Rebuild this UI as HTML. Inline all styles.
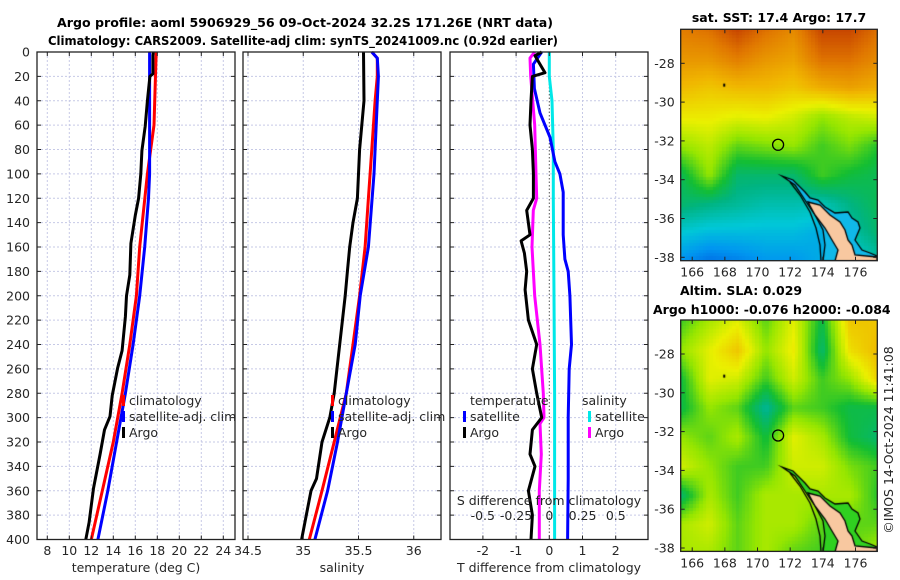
<!DOCTYPE html>
<html><head><meta charset="utf-8">
<style>
html,body{margin:0;padding:0;background:#fff;}
body{width:900px;height:580px;overflow:hidden;position:relative;font-family:"DejaVu Sans","Liberation Sans",sans-serif;}
svg{position:absolute;left:0;top:0;}
canvas{position:absolute;}
</style></head><body>
<canvas id="sst" width="197" height="232" style="left:680px;top:29px"></canvas>
<canvas id="sla" width="197" height="232" style="left:680px;top:320px"></canvas>
<svg id="chart" width="900" height="580" xmlns="http://www.w3.org/2000/svg"></svg>
<script>
// ---- data ----
const depthTA = [0,3,18,20,40,61,81,100,120,134,157,183,200,217,245,259,282,299,310,330,358,386,400];
const tempArgo = [17.64,17.6,17.6,17.33,17.1,16.9,16.6,16.5,16.3,16.0,15.6,15.5,15.2,15.1,14.8,14.4,13.9,13.7,13.2,12.8,12.2,11.8,11.5];
const depthC = [0,60,100,160,200,240,280,320,360,400];
const tempClim = [17.9,17.7,17.1,16.4,16.1,15.5,14.8,14.0,13.0,12.0];
const depthS = [0,40,100,120,160,200,240,280,320,360,400];
const tempSat = [17.3,17.3,17.3,17.2,16.85,16.4,15.8,15.1,14.3,13.5,12.6];
const depthSA = [0,40,80,120,140,160,180,200,240,280,300,320,350,360,400];
const salArgo = [35.545,35.55,35.51,35.49,35.45,35.42,35.40,35.38,35.33,35.28,35.24,35.17,35.12,35.07,34.985];
const depthSC = [0,5,20,40,80,120,160,200,240,280,320,360,400];
const salClim = [35.62,35.67,35.67,35.65,35.62,35.59,35.56,35.51,35.45,35.39,35.28,35.17,35.055];
const depthSS = [0,5,20,40,60,100,160,200,240,280,320,360,400];
const salSat = [35.62,35.67,35.68,35.67,35.66,35.64,35.59,35.515,35.47,35.39,35.31,35.22,35.105];
const depthDT = [0,3,17,20,40,60,80,100,120,130,150,155,165,180,195,220,240,260,280,300,310,330,340,360,380,400];
const tDiffArgo = [-0.23,-0.43,-0.13,-0.51,-0.55,-0.58,-0.51,-0.48,-0.48,-0.68,-0.58,-0.85,-0.75,-0.68,-0.73,-0.63,-0.38,-0.51,-0.38,-0.23,-0.51,-0.58,-0.43,-0.63,-0.51,-0.55];
const depthDTS = [0,10,30,50,70,90,100,115,150,170,180,200,240,260,300,350,400];
const tDiffSat = [-0.23,-0.48,-0.45,-0.28,0.02,0.17,0.32,0.42,0.42,0.47,0.57,0.62,0.67,0.6,0.57,0.57,0.55];
const depthDS = [0,5,20,60,100,120,130,160,200,240,280,300,305,330,360,400];
const sDiffArgo = [-0.11,-0.145,-0.14,-0.11,-0.10,-0.095,-0.12,-0.13,-0.11,-0.07,-0.045,-0.04,-0.07,-0.06,-0.075,-0.075];
const depthDSS = [0,20,40,80,120,200,280,320,400];
const sDiffSat = [0,0,0.02,0.03,0.03,0.035,0.04,0.04,0.04];
const depthTicks = [0,20,40,60,80,100,120,140,160,180,200,220,240,260,280,300,320,340,360,380,400];
const tTicks = [8,10,12,14,16,18,20,22,24];
const sTicks = [34.5,35,35.5,36];
const tdTicks = [-2,-1,0,1,2];
const sdTicks = [-0.5,-0.25,0,0.25,0.5];
const sdTickLabels = ["-0.5","-0.25","0","0.25","0.5"];
const lonTicks = [166,168,170,172,174,176];
const latTicks = [-28,-30,-32,-34,-36,-38];
// gridded map values (colormap index 0..1), rows north->south
const sstGrid = [
[0.84,0.86,0.92,0.86,0.82,0.92,0.92,0.86],
[0.8,0.8,0.84,0.8,0.78,0.86,0.86,0.82],
[0.74,0.72,0.74,0.74,0.72,0.76,0.78,0.76],
[0.66,0.66,0.64,0.65,0.62,0.56,0.6,0.62],
[0.56,0.6,0.52,0.54,0.56,0.5,0.54,0.48],
[0.44,0.56,0.42,0.42,0.42,0.5,0.46,0.44],
[0.42,0.4,0.38,0.36,0.36,0.35,0.4,0.44],
[0.32,0.3,0.3,0.3,0.3,0.28,0.36,0.42],
[0.24,0.2,0.22,0.25,0.25,0.28,0.3,0.36]];
const slaGrid = [
[0.5,0.58,0.64,0.52,0.64,0.45,0.72,0.72],
[0.56,0.64,0.72,0.56,0.66,0.42,0.68,0.74],
[0.46,0.64,0.62,0.5,0.62,0.5,0.56,0.7],
[0.45,0.56,0.52,0.38,0.52,0.5,0.45,0.45],
[0.56,0.52,0.58,0.46,0.64,0.58,0.46,0.42],
[0.62,0.56,0.5,0.5,0.62,0.62,0.54,0.5],
[0.42,0.58,0.5,0.58,0.58,0.58,0.58,0.48],
[0.58,0.62,0.52,0.58,0.58,0.52,0.52,0.52],
[0.58,0.58,0.52,0.58,0.52,0.5,0.52,0.58]];

const NS='http://www.w3.org/2000/svg';
const FONT='"DejaVu Sans","Liberation Sans",sans-serif';
const svg=document.getElementById('chart');
function mk(tag,attrs,parent){const e=document.createElementNS(NS,tag);for(const k in attrs)e.setAttribute(k,attrs[k]);(parent||svg).appendChild(e);return e;}
function txt(x,y,s,attrs,parent){const e=mk('text',Object.assign({x:x,y:y,'font-size':12,fill:'#262626','font-family':FONT},attrs||{}),parent);e.textContent=s;return e;}

const Y0=52,Y1=539.5;
const yD=d=>Y0+(d/400)*(Y1-Y0);
const P1={l:37,r:235}, P2={l:243,r:441}, P3={l:450,r:648};
const xT=t=>47.3+(t-8)*11;
const xS=s=>248+(s-34.5)*110.5;
const xTD=t=>549.3+t*33.2;
const xSD=s=>549.3+s*133;

function panel(name){
  const g=mk('g',{});
  
  
  return g;
}
function grid(g,P,xs,fn){
  xs.forEach(v=>{const x=fn(v);mk('line',{x1:x,x2:x,y1:Y0,y2:Y1,stroke:'#c6c9e6','stroke-width':1,'stroke-dasharray':'2,2'},g);});
  depthTicks.forEach(d=>{mk('line',{x1:P.l,x2:P.r,y1:yD(d),y2:yD(d),stroke:'#c6c9e6','stroke-width':1,'stroke-dasharray':'2,2'},g);});
}
function frame(g,P,xs,fn){
  mk('rect',{x:P.l,y:Y0,width:P.r-P.l,height:Y1-Y0,fill:'none',stroke:'#222','stroke-width':1.3},g);
  depthTicks.forEach(d=>{const y=yD(d);mk('line',{x1:P.l,x2:P.l+4,y1:y,y2:y,stroke:'#222'},g);mk('line',{x1:P.r-4,x2:P.r,y1:y,y2:y,stroke:'#222'},g);});
  xs.forEach(v=>{const x=fn(v);mk('line',{x1:x,x2:x,y1:Y1-4,y2:Y1,stroke:'#222'},g);mk('line',{x1:x,x2:x,y1:Y0,y2:Y0+4,stroke:'#222'},g);});
}
function series(g,xs,ds,fn,color,name,w){
  const pts=xs.map((v,i)=>fn(v).toFixed(1)+','+yD(ds[i]).toFixed(1)).join(' ');
  const p=mk('polyline',{points:pts,fill:'none',stroke:color,'stroke-width':w||3,'stroke-linejoin':'round'},g);
  
  
}
function legendEntry(g,x,y,color,label,name){
  const e=mk('g',{},g);
  
  
  mk('rect',{x:x,y:y-10,width:3,height:11,fill:color},e);
  txt(x+7,y,label,{'font-size':12.5},e);
}

// titles
const t1=txt(305,27,'Argo profile: aoml 5906929_56 09-Oct-2024 32.2S 171.26E (NRT data)',{'text-anchor':'middle','font-weight':'bold','font-size':12,fill:'#000',textLength:496,lengthAdjust:'spacingAndGlyphs'});

const t2=txt(303,45,'Climatology: CARS2009. Satellite-adj clim: synTS_20241009.nc (0.92d earlier)',{'text-anchor':'middle','font-weight':'bold','font-size':12,fill:'#000',textLength:510,lengthAdjust:'spacingAndGlyphs'});


// depth labels
depthTicks.forEach(d=>{txt(30,yD(d)+4.5,String(d),{'text-anchor':'end','font-size':12.5});});

// panel 1
const g1=panel('temperature-panel');
grid(g1,P1,tTicks,xT);
series(g1,tempClim,depthC,xT,'#ff0000','clim-temp-line');
series(g1,tempSat,depthS,xT,'#0000ff','sat-temp-line');
series(g1,tempArgo,depthTA,xT,'#000000','argo-temp-line');
frame(g1,P1,tTicks,xT);
tTicks.forEach(t=>txt(xT(t),555,String(t),{'text-anchor':'middle','font-size':12.5}));
txt(136,572,'temperature (deg C)',{'text-anchor':'middle','font-size':12.5});
legendEntry(g1,122,405,'#ff0000','climatology','legend-climatology');
legendEntry(g1,122,421,'#0000ff','satellite-adj. clim','legend-satellite-adj');
legendEntry(g1,122,437,'#000000','Argo','legend-argo');

// panel 2
const g2=panel('salinity-panel');
grid(g2,P2,sTicks,xS);
series(g2,salClim,depthSC,xS,'#ff0000','clim-sal-line');
series(g2,salSat,depthSS,xS,'#0000ff','sat-sal-line');
series(g2,salArgo,depthSA,xS,'#000000','argo-sal-line');
frame(g2,P2,sTicks,xS);
sTicks.forEach(s=>txt(xS(s),555,String(s),{'text-anchor':'middle','font-size':12.5}));
txt(342,572,'salinity',{'text-anchor':'middle','font-size':12.5});
legendEntry(g2,331,405,'#ff0000','climatology','legend-climatology-2');
legendEntry(g2,331,421,'#0000ff','satellite-adj. clim','legend-satellite-adj-2');
legendEntry(g2,331,437,'#000000','Argo','legend-argo-2');

// panel 3
const g3=panel('difference-panel');
grid(g3,P3,[-2,-1,1,2],xTD);
mk('line',{x1:xTD(0),x2:xTD(0),y1:Y0,y2:Y1,stroke:'#555','stroke-width':1,'stroke-dasharray':'1.5,2'},g3);
series(g3,sDiffSat,depthDSS,xSD,'#00e8e8','sat-sdiff-line');
series(g3,tDiffSat,depthDTS,xTD,'#0000ff','sat-tdiff-line');
series(g3,sDiffArgo,depthDS,xSD,'#ff00ff','argo-sdiff-line');
series(g3,tDiffArgo,depthDT,xTD,'#000000','argo-tdiff-line');
frame(g3,P3,tdTicks,xTD);
tdTicks.forEach(t=>txt(xTD(t),555,String(t),{'text-anchor':'middle','font-size':12.5}));
txt(549,572,'T difference from climatology',{'text-anchor':'middle','font-size':12.5});
txt(549,505,'S difference from climatology',{'text-anchor':'middle','font-size':12.5});
sdTicks.forEach((s,i)=>txt(xSD(s),520,sdTickLabels[i],{'text-anchor':'middle','font-size':12.5}));
txt(470,405,'temperature',{'font-size':12.5});
legendEntry(g3,463,421,'#0000ff','satellite','legend-t-satellite');
legendEntry(g3,463,437,'#000000','Argo','legend-t-argo');
txt(582,405,'salinity',{'font-size':12.5});
legendEntry(g3,588,421,'#00e8e8','satellite','legend-s-satellite');
legendEntry(g3,588,437,'#ff00ff','Argo','legend-s-argo');

// ---- maps ----
const MX0=680.7, MY0=29.3, MW=196.6, MH=231.4;
const lonX=l=>692.2+(l-166)*16.33;
const latY=l=>63.3+(-28-l)*19.4;
const stops=[[0.15,[0,70,220]],[0.25,[0,150,240]],[0.32,[0,200,215]],[0.4,[0,180,130]],[0.47,[20,190,50]],[0.56,[150,230,0]],[0.65,[235,240,0]],[0.75,[240,180,0]],[0.85,[225,120,0]],[0.95,[190,50,0]]];
function cmap(v){if(v<=stops[0][0])return stops[0][1];for(let i=1;i<stops.length;i++){if(v<=stops[i][0]){const a=stops[i-1],b=stops[i],f=(v-a[0])/(b[0]-a[0]);return a[1].map((c,k)=>Math.round(c+(b[1][k]-c)*f));}}return stops[stops.length-1][1];}
const shelf=[[782,176],[793,180],[805,192],[810,198],[818,200],[825,207],[835,213],[848,212],[852,218],[858,222],[860,228],[855,240],[862,250],[870,253],[877,256],[877,261],[823,261],[825,245],[823,230],[815,215],[805,200],[795,185]];
const land=[[808,202],[820,205],[830,215],[840,222],[845,230],[848,240],[852,245],[855,255],[877,257],[877,261],[835,261],[838,250],[832,240],[825,228],[815,215]];
const inner=[[790,182],[800,195],[810,212],[816,228],[820,245],[821,261]];
function drawMap(id,gridV,shelfCol){
  const c=document.getElementById(id),ctx=c.getContext('2d');
  const R=gridV.length,C=gridV[0].length,cell=3.3;
  for(let y=0;y<c.height;y+=cell){for(let x=0;x<c.width;x+=cell){
    const fy=y/c.height*(R-1),fx=x/c.width*(C-1);
    const i=Math.min(R-2,Math.floor(fy)),j=Math.min(C-2,Math.floor(fx)),a=fy-i,b=fx-j;
    const v=gridV[i][j]*(1-a)*(1-b)+gridV[i][j+1]*(1-a)*b+gridV[i+1][j]*a*(1-b)+gridV[i+1][j+1]*a*b;
    const col=cmap(v);ctx.fillStyle='rgb('+col.join(',')+')';ctx.fillRect(Math.floor(x),Math.floor(y),Math.ceil(cell)+1,Math.ceil(cell)+1);
  }}
  const ox=680,oy=29;
  function poly(pts,fill,stroke){ctx.beginPath();pts.forEach((p,k)=>{const X=p[0]-ox,Y=p[1]-oy;k?ctx.lineTo(X,Y):ctx.moveTo(X,Y);});ctx.closePath();if(fill){ctx.fillStyle=fill;ctx.fill();}if(stroke){ctx.strokeStyle=stroke;ctx.lineWidth=1.3;ctx.stroke();}}
  poly(shelf,shelfCol,'#000');
  poly(land,'#f8c8a0','#000');
  ctx.beginPath();inner.forEach((p,k)=>{k?ctx.lineTo(p[0]-ox,p[1]-oy):ctx.moveTo(p[0]-ox,p[1]-oy);});ctx.strokeStyle='#000';ctx.lineWidth=1.3;ctx.stroke();
  ctx.fillStyle='#000';ctx.fillRect(lonX(167.9)-680,latY(-29.1)-29-1,2,3);
}
drawMap('sst',sstGrid,'#10b8e8');
drawMap('sla',slaGrid,'#30d020');

function mapAxes(dy,name){
  const g=mk('g',{});
  
  
  mk('circle',{cx:lonX(171.26),cy:latY(-32.2)+dy,r:5.5,fill:'none',stroke:'#000','stroke-width':1.3},g);
  mk('rect',{x:MX0,y:MY0+dy,width:MW,height:MH,fill:'none',stroke:'#222','stroke-width':1.3},g);
  lonTicks.forEach(l=>{const x=lonX(l);mk('line',{x1:x,x2:x,y1:MY0+dy+MH-4,y2:MY0+dy+MH,stroke:'#222'},g);mk('line',{x1:x,x2:x,y1:MY0+dy,y2:MY0+dy+4,stroke:'#222'},g);txt(x,MY0+dy+MH+16,String(l),{'text-anchor':'middle','font-size':12.5},g);});
  latTicks.forEach(l=>{const y=latY(l)+dy;mk('line',{x1:MX0,x2:MX0+4,y1:y,y2:y,stroke:'#222'},g);mk('line',{x1:MX0+MW-4,x2:MX0+MW,y1:y,y2:y,stroke:'#222'},g);txt(MX0-6,y+4.5,String(l),{'text-anchor':'end','font-size':12.5},g);});
}
mapAxes(0,'sst-map-axes');
mapAxes(290.7,'sla-map-axes');
txt(779,22,'sat. SST: 17.4 Argo: 17.7',{'text-anchor':'middle','font-weight':'bold',fill:'#000','font-size':12.5});
txt(680,295,'Altim. SLA: 0.029',{'font-weight':'bold',fill:'#000','font-size':12.5});
txt(653,314,'Argo h1000: -0.076 h2000: -0.084',{'font-weight':'bold',fill:'#000','font-size':12.5});
const ts=txt(0,0,'\u00a9IMOS 14-Oct-2024 11:41:08',{'text-anchor':'middle','transform':'translate(893,440) rotate(-90)','font-size':12.5});

</script>
</body></html>
